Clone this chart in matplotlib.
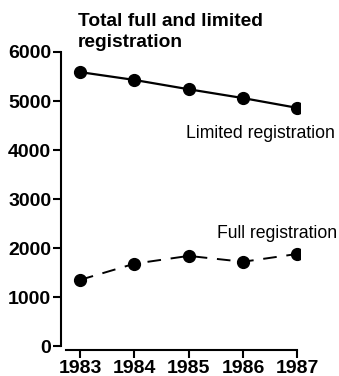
import matplotlib
matplotlib.use("Agg")
import matplotlib.pyplot as plt

years = [1983, 1984, 1985, 1986, 1987]
limited = [5590, 5430, 5240, 5060, 4860]
full = [1350, 1680, 1840, 1720, 1880]
yticks = [0, 1000, 2000, 3000, 4000, 5000, 6000]
title = "Total full and limited\nregistration"

W, H = 339, 376
fig = plt.figure(figsize=(W / 100, H / 100), dpi=100)
def fx(px): return px / W
def fy(py): return 1 - py / H

ax = fig.add_axes([fx(61), fy(350), fx(300) - fx(61), fy(52) - fy(350)])
ax.plot(years, limited, color="black", lw=1.6, marker="o", ms=8.5)
ax.plot(years, full, color="black", lw=1.4, marker="o", ms=8.5, dashes=(7, 5))

ax.set_xlim(1982.65, 1987.05)
ax.set_ylim(-80, 6000)
for s in ["top", "right"]:
    ax.spines[s].set_visible(False)
ax.spines["left"].set_bounds(0, 6000)
ax.spines["bottom"].set_bounds(1982.75, 1987)
ax.spines["left"].set_linewidth(1.5)
ax.spines["bottom"].set_linewidth(1.5)
ax.set_xticks(years)
ax.set_yticks(yticks)
ax.tick_params(axis="both", direction="out", length=6, width=1.5, pad=1,
               labelsize=14)
for lab in ax.get_xticklabels() + ax.get_yticklabels():
    lab.set_fontfamily("Liberation Sans")
    lab.set_fontweight("bold")

fig.text(fx(78), fy(26), "Total full and limited", fontsize=13.8, fontweight="bold",
         family="Liberation Sans", ha="left", va="baseline")
fig.text(fx(78), fy(47), "registration", fontsize=13.8, fontweight="bold",
         family="Liberation Sans", ha="left", va="baseline")
fig.text(fx(186), fy(138), "Limited registration", fontsize=12.7,
         family="Liberation Sans", ha="left", va="baseline")
fig.text(fx(217), fy(238), "Full registration", fontsize=12.7,
         family="Liberation Sans", ha="left", va="baseline")

fig.savefig("out.png", dpi=100)
